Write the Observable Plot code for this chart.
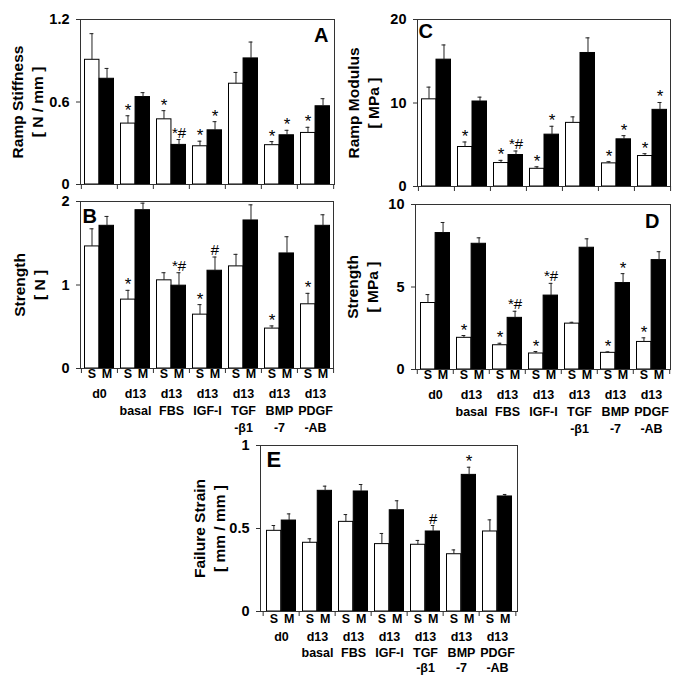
<!DOCTYPE html>
<html><head><meta charset="utf-8">
<script src="https://cdn.jsdelivr.net/npm/d3@7"></script>
<script src="https://cdn.jsdelivr.net/npm/@observablehq/plot@0.6"></script>
<style>
body{margin:0;background:#fff}
#fig{position:relative;width:679px;height:683px;overflow:hidden;background:#fff;font-family:"Liberation Sans",Arial,sans-serif}
</style>
</head><body><div id="fig"></div>
<script>
// ---- categories ----
const groups = ["d0","basal","FBS","IGF-I","TGF-β1","BMP-7","PDGF-AB"];
const groupLabels = ["d0","d13\nbasal","d13\nFBS","d13\nIGF-I","d13\nTGF\n-β1","d13\nBMP\n-7","d13\nPDGF\n-AB"];
const seriesLabels = ["S","M"];

// ---- A: Ramp Stiffness [N/mm] ----
const stiffS    = [0.907, 0.443, 0.474, 0.278, 0.733, 0.286, 0.375];
const stiffSErr = [0.190, 0.057, 0.063, 0.037, 0.082, 0.026, 0.041];
const stiffM    = [0.769, 0.636, 0.288, 0.394, 0.917, 0.358, 0.569];
const stiffMErr = [0.075, 0.032, 0.039, 0.063, 0.119, 0.036, 0.055];
const stiffSSig = ["", "*", "*", "*", "", "*", "*"];
const stiffMSig = ["", "", "*#", "*", "", "*", ""];
const stiffTicks = [0, 0.6, 1.2];

// ---- C: Ramp Modulus [MPa] ----
const modS    = [10.44, 4.73, 2.81, 2.12, 7.62, 2.77, 3.65];
const modSErr = [1.46, 0.60, 0.32, 0.24, 0.72, 0.20, 0.28];
const modM    = [15.19, 10.18, 3.77, 6.21, 15.99, 5.65, 9.18];
const modMErr = [1.76, 0.52, 0.48, 1.00, 1.81, 0.44, 0.88];
const modSSig = ["", "*", "*", "*", "", "*", "*"];
const modMSig = ["", "", "*#", "*", "", "*", "*"];
const modTicks = [0, 10, 20];

// ---- B: Strength [N] ----
const strNS    = [1.462, 0.825, 1.056, 0.645, 1.223, 0.478, 0.769];
const strNSErr = [0.211, 0.111, 0.091, 0.120, 0.144, 0.032, 0.131];
const strNM    = [1.709, 1.896, 0.992, 1.171, 1.773, 1.378, 1.709];
const strNMErr = [0.112, 0.084, 0.155, 0.164, 0.187, 0.200, 0.132];
const strNSSig = ["", "*", "", "*", "", "*", "*"];
const strNMSig = ["", "", "*#", "#", "", "", ""];
const strNTicks = [0, 1, 2];

// ---- D: Strength [MPa] ----
const strPS    = [4.03, 1.92, 1.47, 0.97, 2.78, 1.01, 1.67];
const strPSErr = [0.51, 0.14, 0.12, 0.12, 0.08, 0.06, 0.25];
const strPM    = [8.27, 7.62, 3.13, 4.48, 7.38, 5.24, 6.63];
const strPMErr = [0.64, 0.36, 0.40, 0.74, 0.54, 0.57, 0.51];
const strPSSig = ["", "*", "*", "*", "", "*", "*"];
const strPMSig = ["", "", "*#", "*#", "", "*", ""];
const strPTicks = [0, 5, 10];

// ---- E: Failure Strain [mm/mm] ----
const failS    = [0.486, 0.414, 0.540, 0.406, 0.402, 0.345, 0.482];
const failSErr = [0.032, 0.024, 0.044, 0.064, 0.026, 0.026, 0.070];
const failM    = [0.548, 0.727, 0.723, 0.610, 0.482, 0.823, 0.693];
const failMErr = [0.040, 0.028, 0.042, 0.057, 0.036, 0.046, 0.012];
const failSSig = ["", "", "", "", "", "", ""];
const failMSig = ["", "", "", "", "#", "*", ""];
const failTicks = [0, 0.5, 1];

const FONT = '"Liberation Sans", Arial, Helvetica, sans-serif';

function panel(p) {
  const W = p.width - p.ml - p.mr;
  const pIn = 0.17, pOut = 0.085;
  const step = W / (groups.length - pIn + 2 * pOut);
  const bw = step * (1 - pIn);
  const q = bw / 4;
  const rows = (series, vals, errs, sigs) =>
    groups.map((g, i) => ({group: g, label: groupLabels[i], series, mean: vals[i], top: vals[i] + errs[i], sig: sigs[i]}));
  const sRows = rows(seriesLabels[0], p.S, p.SErr, p.SSig);
  const mRows = rows(seriesLabels[1], p.M, p.MErr, p.MSig);

  const side = (data, dx, fill) => [
    Plot.barY(data, {x: "group", y: "mean", fill, stroke: "#000", strokeWidth: 1,
      insetLeft: dx < 0 ? 0.5 : bw / 2, insetRight: dx < 0 ? bw / 2 : 0.5}),
    Plot.ruleX(data, {x: "group", y1: "mean", y2: "top", dx, stroke: "#222", strokeWidth: 1}),
    Plot.tickY(data, {x: "group", y: "top", insetLeft: bw / 2 + dx - 2, insetRight: bw / 2 - dx - 2, stroke: "#222", strokeWidth: 1}),
    Plot.text(data.filter(d => d.sig && !d.sig.includes("#")), {x: "group", y: "top", text: "sig", dx, dy: 0,
      lineAnchor: "bottom", fontSize: 17, fill: "#000"}),
    Plot.text(data.filter(d => d.sig && d.sig.includes("#")), {x: "group", y: "top", text: "sig", dx, dy: -2,
      lineAnchor: "bottom", fontSize: 15, fill: "#000"})
  ];

  const marks = [
    ...side(sRows, -q, "#fff"),
    ...side(mRows, q, "#000"),
    Plot.frame({stroke: "#333", strokeWidth: 1}),
    Plot.axisY({ticks: p.ticks, tickSize: 4, tickPadding: 7, tickFormat: d => `${d}`, fontSize: 14.5, fontWeight: "bold", label: null, stroke: "#333"}),
    Plot.ruleX(groups, {x: d => d, dx: -step / 2, y1: 0, y2: 0, insetBottom: -5, stroke: "#333"}),
    Plot.ruleX(groups.slice(-1), {x: d => d, dx: step / 2, y1: 0, y2: 0, insetBottom: -5, stroke: "#333"}),
    Plot.text([p.label], {text: d => d, frameAnchor: "left", rotate: -90, dx: p.labelDx, lineAnchor: "middle", textAnchor: "middle",
      fontSize: 15.5, fontWeight: "bold", lineHeight: 1.3, fill: "#000"}),
    Plot.text([p.letter], {text: d => d, frameAnchor: p.letterAnchor, dx: p.letterDx, dy: p.letterDy,
      lineAnchor: "top", fontSize: p.letterSize, fontWeight: "bold", fill: "#000"})
  ];
  if (p.xLabels) {
    marks.push(
      Plot.text(groups, {x: d => d, text: () => seriesLabels[0], frameAnchor: "bottom", dx: -q, dy: p.sdy, lineAnchor: "top", fontSize: 12.5, fontWeight: "bold", fill: "#000"}),
      Plot.text(groups, {x: d => d, text: () => seriesLabels[1], frameAnchor: "bottom", dx: q, dy: p.sdy, lineAnchor: "top", fontSize: 12.5, fontWeight: "bold", fill: "#000"}),
      Plot.text(groups, {x: d => d, text: (d, i) => groupLabels[i], frameAnchor: "bottom", dy: p.gdy, lineAnchor: "top", lineHeight: p.lh, fontSize: 12.5, fontWeight: "bold", fill: "#000"})
    );
  }
  const svg = Plot.plot({
    width: p.width, height: p.height,
    marginLeft: p.ml, marginRight: p.mr, marginTop: p.mt, marginBottom: p.mb,
    style: {fontFamily: FONT, background: "transparent", overflow: "visible"},
    x: {type: "band", domain: groups, paddingInner: pIn, paddingOuter: pOut, axis: null},
    y: {domain: p.domain},
    marks
  });
  svg.style.position = "absolute";
  svg.style.left = p.left + "px";
  svg.style.top = p.top + "px";
  svg.style.background = "transparent";
  svg.style.overflow = "visible";
  document.getElementById("fig").appendChild(svg);
}

panel({left: 0, top: 0, width: 340, height: 192, ml: 80, mr: 6, mt: 19, mb: 8, domain: [0, 1.2], ticks: stiffTicks,
  label: "Ramp Stiffness\n[ N / mm ]", labelDx: -54, letter: "A", letterAnchor: "top-right", letterDx: -6, letterDy: 8, letterSize: 20,
  S: stiffS, SErr: stiffSErr, M: stiffM, MErr: stiffMErr, SSig: stiffSSig, MSig: stiffMSig, xLabels: false});
panel({left: 340, top: 0, width: 339, height: 192, ml: 77, mr: 9, mt: 19, mb: 6, domain: [0, 20], ticks: modTicks,
  label: "Ramp Modulus\n[ MPa ]", labelDx: -55, letter: "C", letterAnchor: "top-left", letterDx: 1, letterDy: 4, letterSize: 20,
  S: modS, SErr: modSErr, M: modM, MErr: modMErr, SSig: modSSig, MSig: modMSig, xLabels: false});
panel({left: 0, top: 192, width: 340, height: 250, ml: 80, mr: 7, mt: 9, mb: 74, domain: [0, 2], ticks: strNTicks,
  label: "Strength\n[ N ]", labelDx: -52, letter: "B", letterAnchor: "top-left", letterDx: 2, letterDy: 7, letterSize: 20,
  S: strNS, SErr: strNSErr, M: strNM, MErr: strNMErr, SSig: strNSSig, MSig: strNMSig, xLabels: true, lh: 1.38, sdy: 1, gdy: 17});
panel({left: 340, top: 192, width: 339, height: 250, ml: 75, mr: 9, mt: 12, mb: 73, domain: [0, 10], ticks: strPTicks,
  label: "Strength\n[ MPa ]", labelDx: -54, letter: "D", letterAnchor: "top-right", letterDx: -11, letterDy: 9, letterSize: 20,
  S: strPS, SErr: strPSErr, M: strPM, MErr: strPMErr, SSig: strPSSig, MSig: strPMSig, xLabels: true, lh: 1.38, sdy: 1, gdy: 17});
panel({left: 150, top: 442, width: 400, height: 241, ml: 110, mr: 33, mt: 3, mb: 72, domain: [0, 1], ticks: failTicks,
  label: "Failure Strain\n[ mm / mm ]", labelDx: -52, letter: "E", letterAnchor: "top-left", letterDx: 6, letterDy: 6, letterSize: 22,
  S: failS, SErr: failSErr, M: failM, MErr: failMErr, SSig: failSSig, MSig: failMSig, xLabels: true, lh: 1.22, sdy: 3, gdy: 19});
</script>
</body></html>
